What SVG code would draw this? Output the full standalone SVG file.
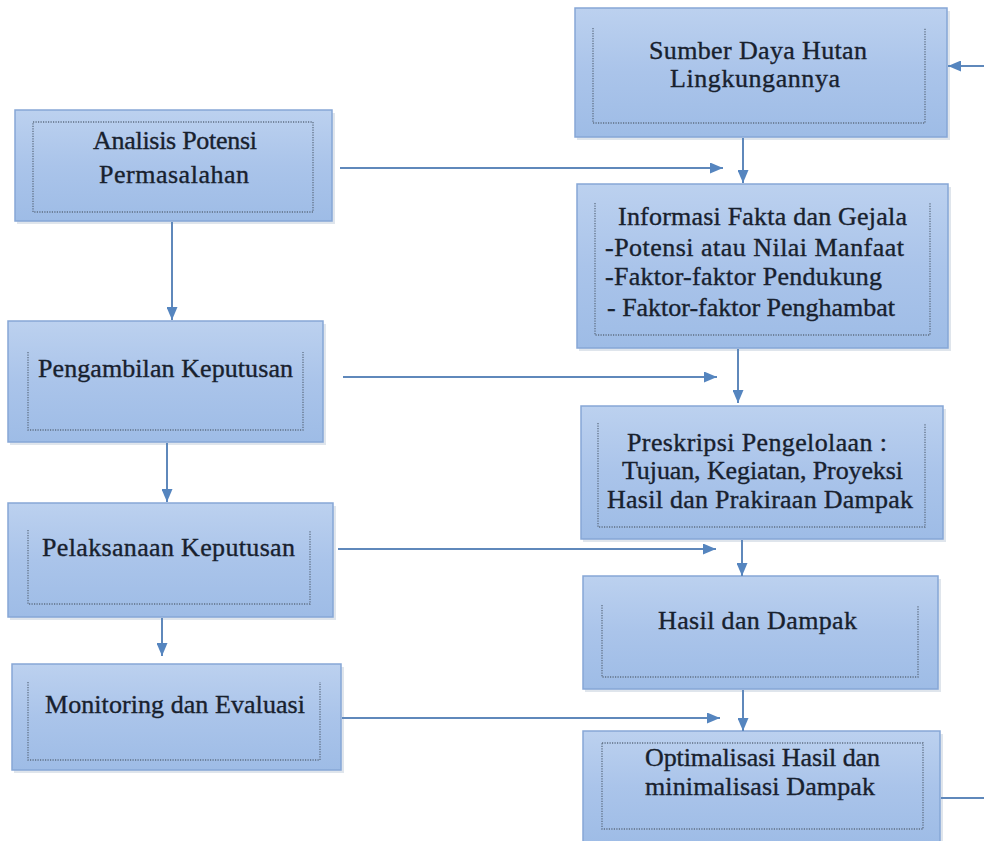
<svg xmlns="http://www.w3.org/2000/svg" width="984" height="841" viewBox="0 0 984 841">
<defs>
<linearGradient id="g" x1="0" y1="0" x2="0" y2="1">
<stop offset="0" stop-color="#bcd1ef"/>
<stop offset="0.5" stop-color="#aac4ea"/>
<stop offset="1" stop-color="#9ebce6"/>
</linearGradient>
<marker id="ah" markerUnits="userSpaceOnUse" markerWidth="13" markerHeight="11" refX="13" refY="5.5" orient="auto">
<path d="M0,0 L13,5.5 L0,11 z" fill="#5585bf"/>
</marker>
<style>
.box{fill:url(#g);stroke:#86a7d6;stroke-width:1.5}
.sh{fill:#c9d3df;opacity:0.6}
.in{fill:none;stroke:#5f6f84;stroke-width:1.3;stroke-dasharray:1.2 1.3}
.t{font-family:"Liberation Serif","Times New Roman",serif;font-size:26px;fill:#18212e;stroke:#18212e;stroke-width:0.35}
.ca{fill:none;stroke:#5f88bb;stroke-width:2;marker-end:url(#ah)}
</style>
</defs>
<rect width="984" height="841" fill="#ffffff"/>

<g id="analisis">
<rect class="sh" x="17" y="113" width="318" height="111"/>
<rect class="box" x="15" y="110" width="317" height="111"/>
<rect class="in" x="33" y="122" width="280" height="90"/>
<text class="t" x="93" y="149" textLength="164" lengthAdjust="spacing">Analisis Potensi</text>
<text class="t" x="99" y="183" textLength="150" lengthAdjust="spacing">Permasalahan</text>
</g>

<g id="pengambilan">
<rect class="sh" x="10" y="324" width="316" height="121"/>
<rect class="box" x="8" y="321" width="315" height="121"/>
<path class="in" d="M28,352 V430 H303 V352"/>
<text class="t" x="38" y="377" textLength="255" lengthAdjust="spacing">Pengambilan Keputusan</text>
</g>

<g id="pelaksanaan">
<rect class="sh" x="10" y="506" width="326" height="114"/>
<rect class="box" x="8" y="503" width="325" height="114"/>
<path class="in" d="M28,530 V604 H310 V530"/>
<text class="t" x="42" y="556" textLength="253" lengthAdjust="spacing">Pelaksanaan Keputusan</text>
</g>

<g id="monitoring">
<rect class="sh" x="14" y="667" width="330" height="106"/>
<rect class="box" x="12" y="664" width="329" height="106"/>
<path class="in" d="M28,682 V760 H320 V682"/>
<text class="t" x="45" y="713" textLength="260" lengthAdjust="spacing">Monitoring dan Evaluasi</text>
</g>

<g id="sumber">
<rect class="sh" x="577" y="11" width="373" height="129"/>
<rect class="box" x="575" y="8" width="372" height="129"/>
<path class="in" d="M593,28 V123 H925 V28"/>
<text class="t" x="649" y="59" textLength="218" lengthAdjust="spacing">Sumber Daya Hutan</text>
<text class="t" x="670" y="87" textLength="170" lengthAdjust="spacing">Lingkungannya</text>
</g>

<g id="informasi">
<rect class="sh" x="579" y="187" width="372" height="164"/>
<rect class="box" x="577" y="184" width="371" height="164"/>
<path class="in" d="M595,203 V335 H930 V203"/>
<text class="t" x="618" y="225" textLength="289" lengthAdjust="spacing">Informasi Fakta dan Gejala</text>
<text class="t" x="605" y="256" textLength="299" lengthAdjust="spacing">-Potensi atau Nilai Manfaat</text>
<text class="t" x="605" y="285" textLength="277" lengthAdjust="spacing">-Faktor-faktor Pendukung</text>
<text class="t" x="607" y="316" textLength="288" lengthAdjust="spacing">- Faktor-faktor Penghambat</text>
</g>

<g id="preskripsi">
<rect class="sh" x="583" y="409" width="363" height="133"/>
<rect class="box" x="581" y="406" width="362" height="133"/>
<path class="in" d="M598,423 V527 H925 V423"/>
<text class="t" x="627" y="451" textLength="260" lengthAdjust="spacing">Preskripsi Pengelolaan :</text>
<text class="t" x="622" y="479" textLength="281" lengthAdjust="spacing">Tujuan, Kegiatan, Proyeksi</text>
<text class="t" x="607" y="508" textLength="306" lengthAdjust="spacing">Hasil dan Prakiraan Dampak</text>
</g>

<g id="hasil">
<rect class="sh" x="585" y="579" width="356" height="113"/>
<rect class="box" x="583" y="576" width="355" height="113"/>
<path class="in" d="M602,605 V677 H918 V605"/>
<text class="t" x="658" y="629" textLength="199" lengthAdjust="spacing">Hasil dan Dampak</text>
</g>

<g id="optimalisasi">
<rect class="sh" x="585" y="734" width="358" height="112"/>
<rect class="box" x="583" y="731" width="357" height="112"/>
<rect class="in" x="602" y="743" width="321" height="86"/>
<text class="t" x="645" y="766" textLength="235" lengthAdjust="spacing">Optimalisasi Hasil dan</text>
<text class="t" x="645" y="795" textLength="230" lengthAdjust="spacing">minimalisasi Dampak</text>
</g>

<g id="connectors">
<path class="ca" d="M172,222 V320"/>
<path class="ca" d="M167,443 V502"/>
<path class="ca" d="M162,618 V656"/>
<path class="ca" d="M743,138 V183"/>
<path class="ca" d="M738,349 V403"/>
<path class="ca" d="M742,540 V576"/>
<path class="ca" d="M743,690 V731"/>
<path class="ca" d="M340,168 H723"/>
<path class="ca" d="M343,377 H717"/>
<path class="ca" d="M338,549 H716"/>
<path class="ca" d="M342,718 H720"/>
<path class="ca" d="M941,798 H992 V66 H948"/>
</g>
</svg>
